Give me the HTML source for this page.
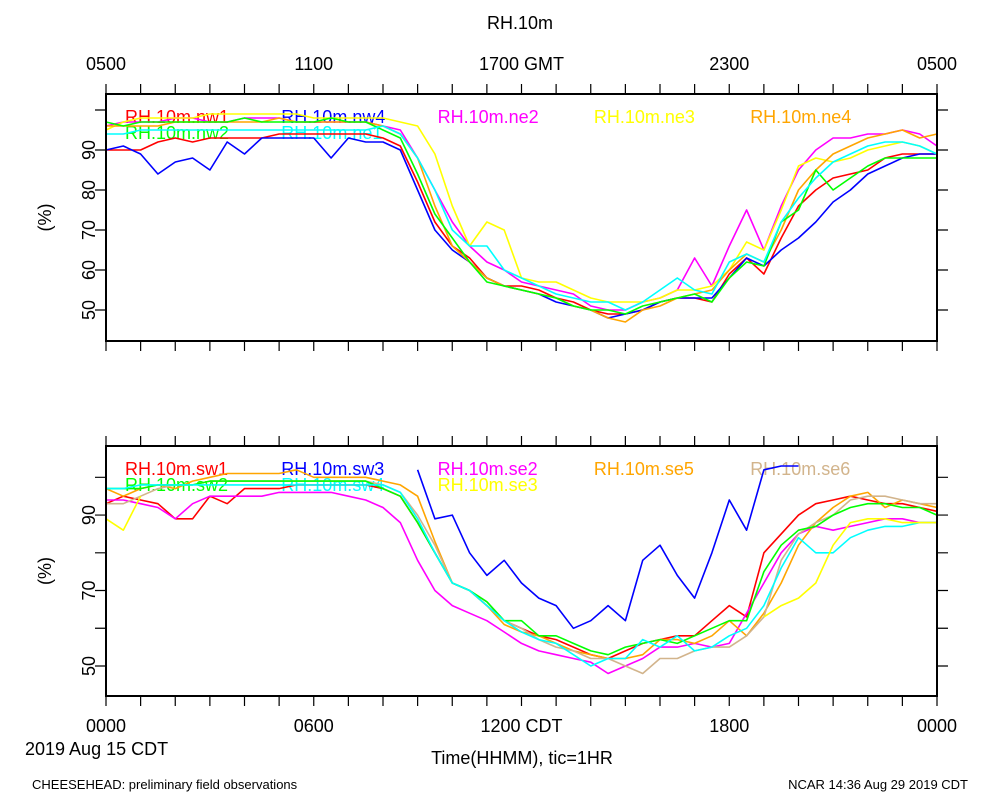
<!DOCTYPE html>
<html><head><meta charset="utf-8"><style>
html,body{margin:0;padding:0;background:#fff;}
svg{display:block;font-family:"Liberation Sans",sans-serif;}
</style></head><body>
<svg id="chart" width="1000" height="800" viewBox="0 0 1000 800" xmlns="http://www.w3.org/2000/svg">
<rect width="1000" height="800" fill="#fff"/>
<text x="520" y="29" font-size="18" text-anchor="middle">RH.10m</text>
<text x="25" y="755" font-size="18">2019 Aug 15 CDT</text>
<text x="522" y="764" font-size="18" text-anchor="middle">Time(HHMM), tic=1HR</text>
<text x="32" y="789" font-size="13">CHEESEHEAD: preliminary field observations</text>
<text x="968" y="789" font-size="13" text-anchor="end">NCAR 14:36 Aug 29 2019 CDT</text>
<g id="layer"></g>
</svg>
<script>
// time axis: half-hourly samples 0..24 h CDT
const times = [];
for (let i = 0; i <= 48; i++) times.push(i / 2);
const topTickLabels = ["0500","1100","1700 GMT","2300","0500"];
const bottomTickLabels = ["0000","0600","1200 CDT","1800","0000"];
const topYTicks = [50,60,70,80,90];
const bottomYTicks = [50,70,90];
const topNames = ["RH.10m.nw1","RH.10m.nw4","RH.10m.ne2","RH.10m.ne3","RH.10m.ne4","RH.10m.nw2","RH.10m.ne1"];
const bottomNames = ["RH.10m.sw1","RH.10m.sw3","RH.10m.se2","RH.10m.se5","RH.10m.se6","RH.10m.sw2","RH.10m.sw4","RH.10m.se3"];
const nw1 = [90,90,90,92,93,92,93,93,93,93,94,94,94,94,94,94,93,91,82,72,66,63,58,56,56,55,53,52,50,49,49,50,52,53,53,52,59,63,59,68,76,80,83,84,85,88,89,89,89];
const nw2 = [97,96,97,97,97,97,97,97,98,97,97,97,97,98,97,97,95,93,84,74,68,62,57,56,55,54,53,51,50,50,49,51,52,53,54,52,58,62,61,72,75,85,80,83,86,88,88,88,88];
const nw4 = [90,91,89,84,87,88,85,92,89,93,93,93,93,88,93,92,92,90,80,70,65,62,58,56,55,54,52,51,50,48,49,50,52,53,53,53,58,63,61,65,68,72,77,80,84,86,88,89,89];
const ne2 = [96,97,97,97,98,98,97,97,98,98,98,97,97,97,97,97,96,95,88,80,72,66,62,60,57,56,55,54,51,50,50,52,53,55,63,56,66,75,65,76,85,90,93,93,94,94,95,94,91];
const ne3 = [95,97,98,98,98,98,99,99,99,99,99,99,98,98,98,98,98,97,96,89,76,66,72,70,58,57,57,55,53,52,52,52,53,55,55,56,60,67,65,75,86,88,87,88,90,91,92,91,89];
const ne4 = [96,96,96,96,97,97,97,97,97,97,98,97,97,97,97,97,96,94,88,76,66,62,58,56,55,54,53,51,50,48,47,50,51,53,54,55,60,64,62,70,80,85,89,91,93,94,95,93,94];
const ne1 = [94,94,95,95,95,95,95,95,95,95,95,95,95,95,95,95,96,94,88,80,70,66,66,60,58,56,54,53,52,52,50,52,55,58,55,54,62,64,62,72,78,83,87,89,91,92,92,91,89];
const sw1 = [93,95,94,93,89,89,95,93,97,97,97,98,98,98,98,98,97,95,88,80,72,70,66,62,60,58,57,55,53,52,54,56,57,58,58,62,66,63,80,85,90,93,94,95,94,93,93,92,91];
const sw3 = [null,null,null,null,null,null,null,null,null,null,null,null,null,null,null,null,null,null,102,89,90,80,74,78,72,68,66,60,62,66,62,78,82,74,68,80,94,86,102,103,103,null,null,null,null,null,null,null,null];
const se2 = [94,94,93,92,89,93,95,95,95,95,96,96,96,96,95,94,92,88,78,70,66,64,62,59,56,54,53,52,51,48,50,52,55,55,56,55,56,64,72,80,85,87,86,87,88,89,89,88,88];
const se5 = [97,95,97,98,97,99,100,101,101,101,101,102,100,100,100,100,99,98,95,83,72,70,66,61,59,58,56,54,53,52,52,53,57,57,56,58,62,58,64,72,82,88,92,95,96,92,94,93,92];
const se6 = [93,93,95,97,98,98,99,99,99,99,99,99,99,99,99,99,98,96,90,82,72,70,67,62,60,57,55,54,52,52,50,48,52,52,54,55,55,58,63,78,85,88,90,94,95,95,94,93,93];
const sw2 = [97,97,97,98,98,98,99,99,99,99,99,99,99,99,99,99,97,95,88,80,72,70,67,62,62,58,58,56,54,53,55,56,57,56,58,60,62,62,75,82,86,87,90,92,93,93,92,92,90];
const sw4 = [97,97,98,98,98,98,98,98,98,98,98,98,98,98,98,98,98,96,89,80,72,70,66,62,59,57,56,53,50,52,52,57,55,58,54,55,58,60,66,76,84,80,80,84,86,87,87,88,88];
const se3 = [89,86,95,null,null,null,null,null,null,null,null,null,null,null,null,null,null,null,null,null,null,null,null,null,null,null,null,null,null,null,null,null,null,null,null,null,null,null,63,66,68,72,82,88,89,89,88,88,88];
const topSeries = [nw1, nw4, ne2, ne3, ne4, nw2, ne1];
const topColors = ["#ff0000","#0000ff","#ff00ff","#ffff00","#ffa500","#00ff00","#00ffff"];
const bottomSeries = [sw1, sw3, se2, se5, se6, sw2, sw4, se3];
const bottomColors = ["#ff0000","#0000ff","#ff00ff","#ffa500","#d2b48c","#00ff00","#00ffff","#ffff00"];

const NS = "http://www.w3.org/2000/svg";
const layer = document.getElementById("layer");
const X0 = 106, X1 = 937;
function xScale(t){ return X0 + (X1 - X0) * t / 24; }
function mk(tag, attrs, parent){ const e = document.createElementNS(NS, tag); for (const k in attrs) e.setAttribute(k, attrs[k]); (parent||layer).appendChild(e); return e; }

function panel(p){
  const yScale = v => p.yTop + (p.vTop - v) * (p.yBot - p.yTop) / (p.vTop - p.vBot);
  const g = mk("g", {});
  
  
  // legend text
  p.names.forEach((n, i) => {
    const row = i < 5 ? 0 : 1, col = i < 5 ? i : i - 5;
    const tx = mk("text", {x: 125 + col * 156.3, y: p.yTop + 29 + row * 16, "font-size": 18, fill: p.colors[i]}, g);
    
    
    tx.textContent = n;
  });
  // series
  p.series.forEach((s, i) => {
    let d = "", pen = false;
    s.forEach((v, j) => {
      if (v === null) { pen = false; return; }
      d += (pen ? "L" : "M") + xScale(times[j]).toFixed(1) + " " + yScale(v).toFixed(1);
      pen = true;
    });
    const path = mk("path", {d: d, fill: "none", stroke: p.colors[i], "stroke-width": 1.6, "stroke-linejoin": "round"}, g);
    
    
  });
  // frame
  const fr = mk("rect", {x: X0, y: p.yTop, width: X1 - X0, height: p.yBot - p.yTop, fill: "none", stroke: "#000", "stroke-width": 2}, g);
  
  
  // hourly ticks
  let td = "";
  for (let h = 0; h <= 24; h++) {
    const x = xScale(h);
    td += `M${x} ${p.yTop}V${p.yTop - 10}M${x} ${p.yBot}V${p.yBot + 10}`;
  }
  for (let v = 50; v <= 100; v += 10) {
    const y = yScale(v);
    td += `M${X0} ${y}H${X0 - 11}M${X1} ${y}H${X1 + 11}`;
  }
  const tk = mk("path", {d: td, stroke: "#000", "stroke-width": 1.2, fill: "none"}, g);
  
  
  p.yTicks.forEach(v => {
    const y = yScale(v);
    const tx = mk("text", {x: 0, y: 0, "font-size": 18, "text-anchor": "middle", transform: `translate(95 ${y}) rotate(-90)`}, g);
    
    
    tx.textContent = v;
  });
  const yt = mk("text", {x: 0, y: 0, "font-size": 18, "text-anchor": "middle", transform: `translate(51 ${(p.yTop + p.yBot) / 2}) rotate(-90)`}, g);
  
  
  yt.textContent = "(%)";
  p.xLabels.forEach((l, i) => {
    const tx = mk("text", {x: xScale(i * 6), y: p.xLabelY, "font-size": 18, "text-anchor": "middle"}, g);
    
    
    tx.textContent = l;
  });
}
panel({name: "top-panel", yTop: 94, yBot: 341, vTop: 104, vBot: 42.25, names: topNames, colors: topColors, series: topSeries, yTicks: topYTicks, xLabels: topTickLabels, xLabelY: 70});
panel({name: "bottom-panel", yTop: 446, yBot: 696, vTop: 108.3, vBot: 42.05, names: bottomNames, colors: bottomColors, series: bottomSeries, yTicks: bottomYTicks, xLabels: bottomTickLabels, xLabelY: 732});
</script>
</body></html>
